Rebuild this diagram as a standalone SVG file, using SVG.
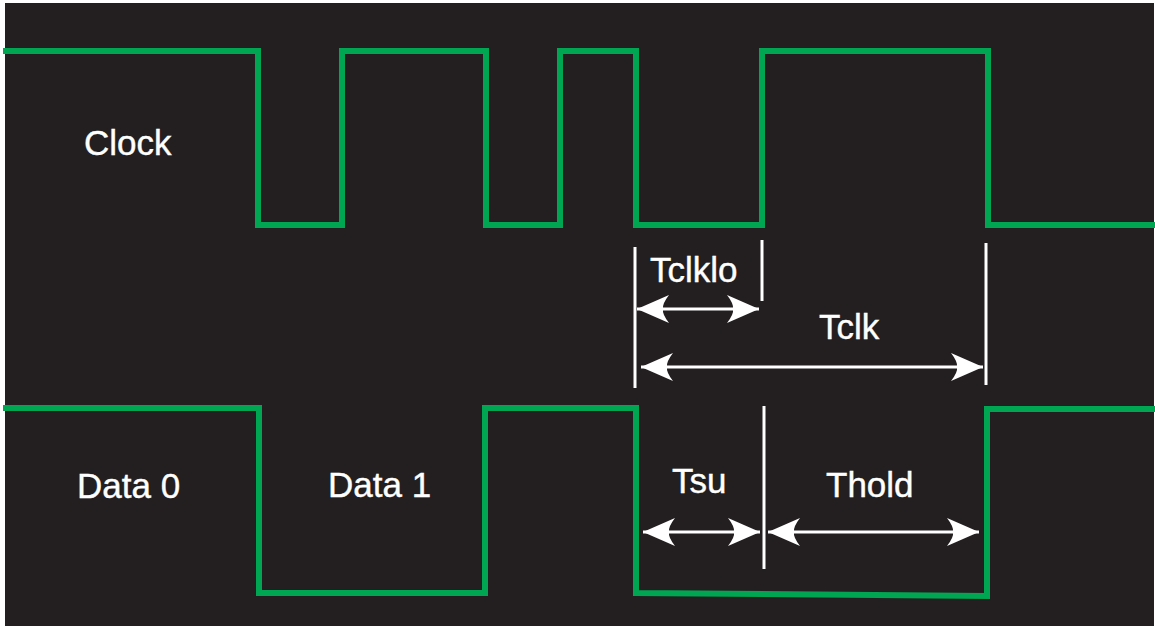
<svg xmlns="http://www.w3.org/2000/svg" width="1155" height="627" viewBox="0 0 1155 627">
  <style>
    .sig { fill: none; stroke: #00a651; stroke-width: 6; stroke-linejoin: miter; stroke-linecap: butt; }
    .tick { stroke: #ffffff; stroke-width: 3; fill: none; }
    .dim { stroke: #ffffff; stroke-width: 3; fill: none; marker-start: url(#ah); marker-end: url(#ah); }
    .lbl { font-family: "Liberation Sans", Arial, sans-serif; fill: #ffffff; stroke: #ffffff; stroke-width: 0.4; font-size: 35px; }
  </style>
  <defs>
    <marker id="ah" markerUnits="userSpaceOnUse" viewBox="-34 -16 36 32" refX="0" refY="0" markerWidth="36" markerHeight="32" orient="auto-start-reverse">
      <path d="M0,0 L-32,-14 Q-25,-5 -26,0 Q-25,5 -32,14 Z" fill="#ffffff"/>
    </marker>
  </defs>
  <rect x="0" y="0" width="1155" height="627" fill="#ffffff"/>
  <rect x="5" y="3" width="1149" height="623" fill="#231f20"/>

  <g id="clock">
    <path class="sig" d="M3,51 H258 V225 H342 V51 H486 V225 H560 V51 H636 V225 H762 V51 H988 V225 H1155"/>
    <text class="lbl" x="84" y="155" font-size="37">Clock</text>
  </g>

  <g id="data">
    <path class="sig" d="M3,408 H259 V593 H485 V408 H636 V593 L987,596 V409 H1155"/>
    <text class="lbl" x="77" y="498" font-size="36">Data 0</text>
    <text class="lbl" x="328" y="497">Data 1</text>
  </g>

  <g id="connectors">
    <line class="tick" x1="635" y1="247" x2="635" y2="388"/>
    <line class="tick" x1="762" y1="240" x2="762" y2="301"/>
    <line class="tick" x1="986" y1="243" x2="986" y2="385"/>
    <line class="tick" x1="764" y1="406" x2="764" y2="569"/>
    <line class="dim" x1="637" y1="309" x2="759" y2="309"/>
    <line class="dim" x1="641" y1="367" x2="983" y2="367"/>
    <line class="dim" x1="643" y1="532" x2="760" y2="532"/>
    <line class="dim" x1="768" y1="532" x2="979" y2="532"/>
  </g>

  <g id="labels">
    <text class="lbl" x="650" y="282" font-size="34">Tclklo</text>
    <text class="lbl" x="819" y="339" font-size="35">Tclk</text>
    <text class="lbl" x="672" y="493" font-size="34">Tsu</text>
    <text class="lbl" x="826" y="497" font-size="36">Thold</text>
  </g>
</svg>
